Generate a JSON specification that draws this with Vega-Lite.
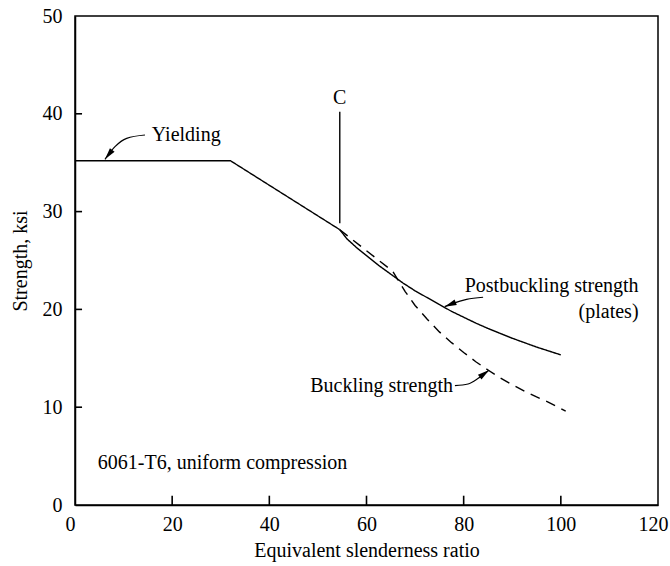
{
  "$schema": "https://vega.github.io/schema/vega-lite/v6.json",
  "width": 583,
  "height": 489,
  "autosize": {"type": "none"},
  "padding": {"left": 75, "top": 16, "right": 12, "bottom": 61},
  "background": "white",
  "config": {
    "view": {"stroke": "black", "strokeWidth": 1.5},
    "font": "Liberation Serif",
    "axis": {
      "labelFont": "Liberation Serif",
      "labelFontSize": 20,
      "labelColor": "black",
      "titleFont": "Liberation Serif",
      "titleFontSize": 20,
      "titleFontWeight": "normal",
      "titleColor": "black",
      "domainColor": "black",
      "domainWidth": 1.5,
      "grid": false
    }
  },
  "datasets": {
    "curves": [
      {"series": "inelastic", "style": "solid", "x": 0, "y": 35.2},
      {"series": "inelastic", "style": "solid", "x": 32, "y": 35.2},
      {"series": "inelastic", "style": "solid", "x": 54.5, "y": 28.15},
      {"series": "post", "style": "solid", "x": 54.5, "y": 28.15},
      {"series": "post", "style": "solid", "x": 56, "y": 27.2},
      {"series": "post", "style": "solid", "x": 58, "y": 26.3},
      {"series": "post", "style": "solid", "x": 60, "y": 25.5},
      {"series": "post", "style": "solid", "x": 62.5, "y": 24.5},
      {"series": "post", "style": "solid", "x": 65, "y": 23.6},
      {"series": "post", "style": "solid", "x": 67.5, "y": 22.7},
      {"series": "post", "style": "solid", "x": 70, "y": 21.9},
      {"series": "post", "style": "solid", "x": 72.5, "y": 21.2},
      {"series": "post", "style": "solid", "x": 75, "y": 20.5},
      {"series": "post", "style": "solid", "x": 77.5, "y": 19.8},
      {"series": "post", "style": "solid", "x": 80, "y": 19.2},
      {"series": "post", "style": "solid", "x": 82.5, "y": 18.6},
      {"series": "post", "style": "solid", "x": 85, "y": 18.05},
      {"series": "post", "style": "solid", "x": 87.5, "y": 17.55},
      {"series": "post", "style": "solid", "x": 90, "y": 17.05},
      {"series": "post", "style": "solid", "x": 92.5, "y": 16.6},
      {"series": "post", "style": "solid", "x": 95, "y": 16.15},
      {"series": "post", "style": "solid", "x": 97.5, "y": 15.75},
      {"series": "post", "style": "solid", "x": 100, "y": 15.35},
      {"series": "buckling", "style": "dashed", "x": 54.5, "y": 28.15},
      {"series": "buckling", "style": "dashed", "x": 60, "y": 26.0},
      {"series": "buckling", "style": "dashed", "x": 65.4, "y": 23.9},
      {"series": "buckling", "style": "dashed", "x": 66.5, "y": 23.0},
      {"series": "buckling", "style": "dashed", "x": 68, "y": 21.8},
      {"series": "buckling", "style": "dashed", "x": 70, "y": 20.4},
      {"series": "buckling", "style": "dashed", "x": 72.5, "y": 19.0},
      {"series": "buckling", "style": "dashed", "x": 75, "y": 17.7},
      {"series": "buckling", "style": "dashed", "x": 77.5, "y": 16.6},
      {"series": "buckling", "style": "dashed", "x": 80, "y": 15.6},
      {"series": "buckling", "style": "dashed", "x": 82.5, "y": 14.65},
      {"series": "buckling", "style": "dashed", "x": 85, "y": 13.8},
      {"series": "buckling", "style": "dashed", "x": 87.5, "y": 13.0},
      {"series": "buckling", "style": "dashed", "x": 90, "y": 12.3},
      {"series": "buckling", "style": "dashed", "x": 92.5, "y": 11.65},
      {"series": "buckling", "style": "dashed", "x": 95, "y": 11.05},
      {"series": "buckling", "style": "dashed", "x": 97.5, "y": 10.5},
      {"series": "buckling", "style": "dashed", "x": 101, "y": 9.6}
    ],
    "arrows": [
      {"arrow": "yield", "x": 14.4, "y": 37.83},
      {"arrow": "yield", "x": 10.64, "y": 37.49},
      {"arrow": "yield", "x": 8.23, "y": 36.64},
      {"arrow": "yield", "x": 6.17, "y": 35.35},
      {"arrow": "post", "x": 84.0, "y": 21.24},
      {"arrow": "post", "x": 80.6, "y": 21.03},
      {"arrow": "post", "x": 77.8, "y": 20.62},
      {"arrow": "post", "x": 76.1, "y": 20.28},
      {"arrow": "buck", "x": 78.2, "y": 12.2},
      {"arrow": "buck", "x": 80.9, "y": 12.37},
      {"arrow": "buck", "x": 83.0, "y": 12.95},
      {"arrow": "buck", "x": 85.25, "y": 13.8}
    ],
    "heads": [
      {"x": 6.17, "y": 35.35, "angle": 218},
      {"x": 76.1, "y": 20.28, "angle": 248},
      {"x": 85.25, "y": 13.8, "angle": 53}
    ],
    "cline": [
      {"x": 54.5, "y": 28.8},
      {"x": 54.5, "y": 40.2}
    ],
    "ticksx": [
      {"tx": 20, "ty": 0, "ty2": 0.95},
      {"tx": 40, "ty": 0, "ty2": 0.95},
      {"tx": 60, "ty": 0, "ty2": 0.95},
      {"tx": 80, "ty": 0, "ty2": 0.95},
      {"tx": 100, "ty": 0, "ty2": 0.95}
    ],
    "ticksy": [
      {"tx": 0, "tx2": 1.45, "ty": 10},
      {"tx": 0, "tx2": 1.45, "ty": 20},
      {"tx": 0, "tx2": 1.45, "ty": 30},
      {"tx": 0, "tx2": 1.45, "ty": 40}
    ],
    "leftText": [
      {"x": 15.8, "y": 37.8, "text": "Yielding"},
      {"x": 4.7, "y": 4.3, "text": "6061-T6, uniform compression"}
    ],
    "centerText": [
      {"x": 54.5, "y": 41.6, "text": "C"}
    ],
    "rightText": [
      {"x": 116.0, "y": 22.4, "text": "Postbuckling strength"},
      {"x": 116.0, "y": 19.7, "text": "(plates)"},
      {"x": 77.8, "y": 12.2, "text": "Buckling strength"}
    ]
  },
  "encoding": {
    "x": {
      "field": "x", "type": "quantitative",
      "scale": {"domain": [0, 120], "nice": false, "zero": false},
      "axis": {"title": "Equivalent slenderness ratio", "values": [0, 20, 40, 60, 80, 100, 120], "ticks": false, "labelPadding": 9, "titlePadding": 6, "labelFlush": true, "labelFlushOffset": 10}
    },
    "y": {
      "field": "y", "type": "quantitative",
      "scale": {"domain": [0, 50], "nice": false, "zero": false},
      "axis": {"title": "Strength, ksi", "values": [0, 10, 20, 30, 40, 50], "ticks": false, "labelPadding": 13, "titlePadding": 12, "labelFlush": false}
    }
  },
  "layer": [
    {
      "data": {"name": "curves"},
      "mark": {"type": "line", "color": "black", "strokeWidth": 1.4},
      "encoding": {
        "detail": {"field": "series"},
        "strokeDash": {"field": "style", "type": "nominal", "scale": {"domain": ["solid", "dashed"], "range": [[1, 0], [10, 7]]}, "legend": null}
      }
    },
    {
      "data": {"name": "ticksx"},
      "mark": {"type": "rule", "color": "black", "strokeWidth": 1.6},
      "encoding": {
        "x": {"field": "tx", "type": "quantitative"},
        "y": {"field": "ty", "type": "quantitative"},
        "y2": {"field": "ty2"}
      }
    },
    {
      "data": {"name": "ticksy"},
      "mark": {"type": "rule", "color": "black", "strokeWidth": 1.6},
      "encoding": {
        "x": {"field": "tx", "type": "quantitative"},
        "x2": {"field": "tx2"},
        "y": {"field": "ty", "type": "quantitative"}
      }
    },
    {
      "data": {"name": "arrows"},
      "mark": {"type": "line", "color": "black", "strokeWidth": 1.2, "interpolate": "monotone"},
      "encoding": {"detail": {"field": "arrow"}}
    },
    {
      "data": {"name": "heads"},
      "mark": {"type": "point", "shape": "M0,0L0.5,2L-0.5,2Z", "filled": true, "color": "black", "opacity": 1, "size": 140},
      "encoding": {"angle": {"field": "angle", "type": "quantitative", "scale": null}}
    },
    {
      "data": {"name": "cline"},
      "mark": {"type": "line", "color": "black", "strokeWidth": 1.4},
      "encoding": {}
    },
    {
      "data": {"name": "leftText"},
      "mark": {"type": "text", "align": "left", "baseline": "middle", "font": "Liberation Serif", "fontSize": 20, "color": "black"},
      "encoding": {"text": {"field": "text"}}
    },
    {
      "data": {"name": "centerText"},
      "mark": {"type": "text", "align": "center", "baseline": "middle", "font": "Liberation Serif", "fontSize": 20, "color": "black"},
      "encoding": {"text": {"field": "text"}}
    },
    {
      "data": {"name": "rightText"},
      "mark": {"type": "text", "align": "right", "baseline": "middle", "font": "Liberation Serif", "fontSize": 20, "color": "black"},
      "encoding": {"text": {"field": "text"}}
    }
  ]
}
